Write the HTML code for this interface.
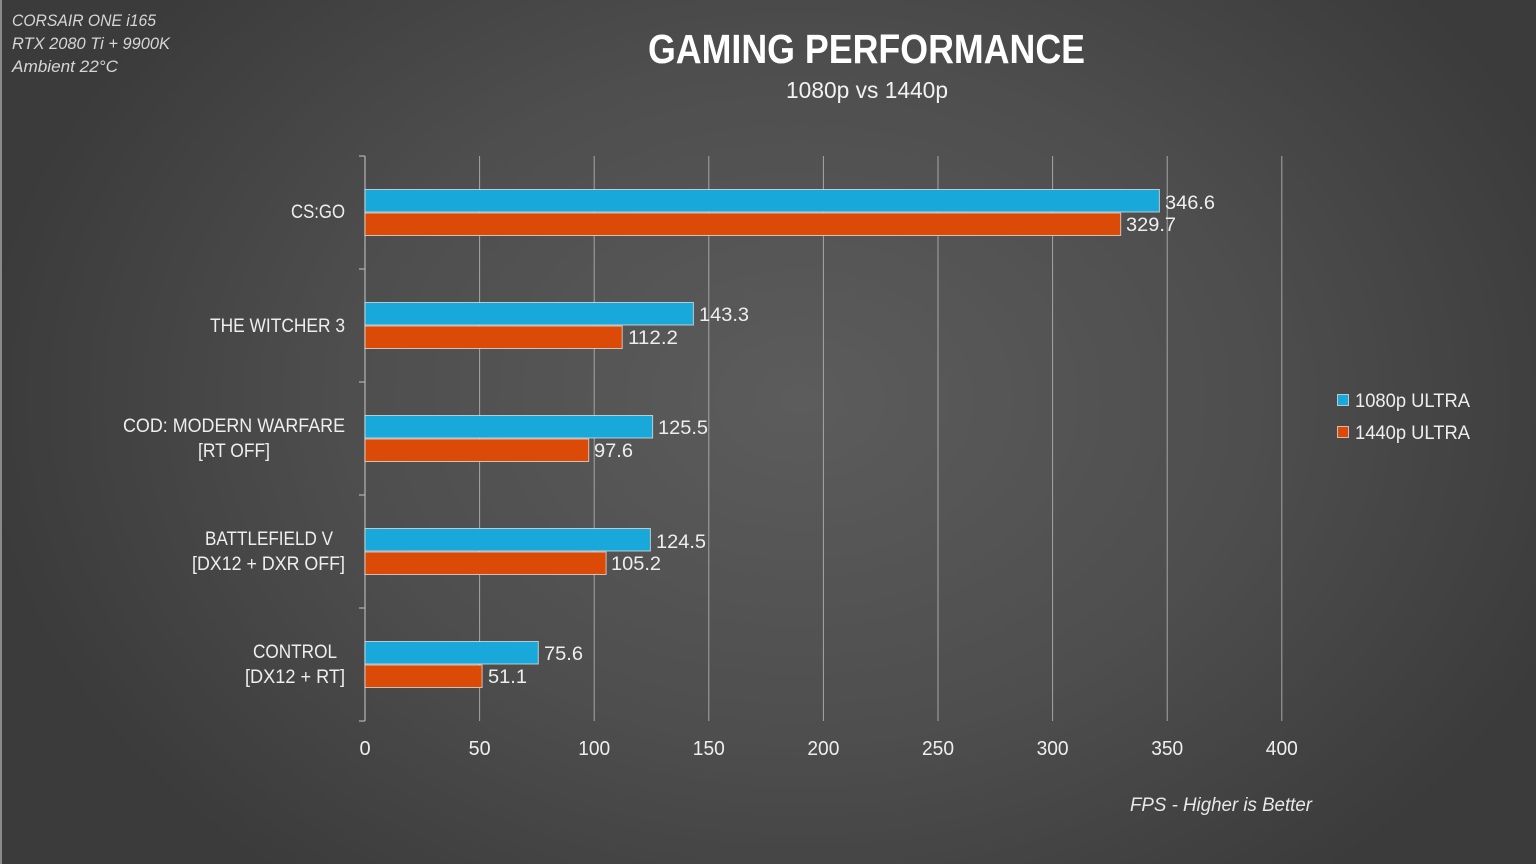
<!DOCTYPE html>
<html>
<head>
<meta charset="utf-8">
<style>
html,body{margin:0;padding:0;background:#3c3c3c;}
svg{display:block;}
text{font-family:"Liberation Sans",sans-serif;}
</style>
</head>
<body>
<svg width="1536" height="864" viewBox="0 0 1536 864" xmlns="http://www.w3.org/2000/svg">
<defs>
<radialGradient id="bg" cx="800" cy="400" r="820" gradientUnits="userSpaceOnUse" gradientTransform="translate(800 400) scale(1 0.75) translate(-800 -400)">
<stop offset="0" stop-color="#5c5c5c"/>
<stop offset="0.55" stop-color="#4e4e4e"/>
<stop offset="1" stop-color="#3b3b3b"/>
</radialGradient>
</defs>
<rect x="0" y="0" width="1536" height="864" fill="url(#bg)"/>
<rect x="0" y="0" width="2" height="864" fill="#8a8a8a"/>

<!-- top-left info -->
<g fill="#d6d6d6" font-style="italic" font-size="16.5">
<text x="12" y="26" textLength="144" lengthAdjust="spacingAndGlyphs">CORSAIR ONE i165</text>
<text x="12" y="49" textLength="158" lengthAdjust="spacingAndGlyphs">RTX 2080 Ti + 9900K</text>
<text x="12" y="72" textLength="106" lengthAdjust="spacingAndGlyphs">Ambient 22°C</text>
</g>

<!-- title -->
<text x="648" y="63" font-size="40.5" font-weight="bold" fill="#ffffff" textLength="437" lengthAdjust="spacingAndGlyphs">GAMING PERFORMANCE</text>
<text x="786" y="98" font-size="23" fill="#f2f2f2" textLength="162" lengthAdjust="spacingAndGlyphs">1080p vs 1440p</text>

<!-- grid lines -->
<g stroke="#a6a6a6" stroke-width="1">
<line x1="479.6" y1="156" x2="479.6" y2="721"/>
<line x1="594.2" y1="156" x2="594.2" y2="721"/>
<line x1="708.8" y1="156" x2="708.8" y2="721"/>
<line x1="823.4" y1="156" x2="823.4" y2="721"/>
<line x1="938" y1="156" x2="938" y2="721"/>
<line x1="1052.6" y1="156" x2="1052.6" y2="721"/>
<line x1="1167.2" y1="156" x2="1167.2" y2="721"/>
<line x1="1281.8" y1="156" x2="1281.8" y2="721"/>
</g>
<!-- axis -->
<g stroke="#b4b4b4" stroke-width="1.2">
<line x1="365" y1="156" x2="365" y2="721"/>
<line x1="359" y1="156" x2="365" y2="156"/>
<line x1="359" y1="269" x2="365" y2="269"/>
<line x1="359" y1="382" x2="365" y2="382"/>
<line x1="359" y1="495" x2="365" y2="495"/>
<line x1="359" y1="608" x2="365" y2="608"/>
<line x1="359" y1="721" x2="365" y2="721"/>
</g>

<!-- bars -->
<g stroke="#e6e6e6" stroke-opacity="0.75" stroke-width="1">
<rect x="365" y="189.5" width="794.4" height="22.5" fill="#18a8d9"/>
<rect x="365" y="213" width="755.7" height="22.5" fill="#dc4a07"/>
<rect x="365" y="302.5" width="328.4" height="22.5" fill="#18a8d9"/>
<rect x="365" y="326" width="257.2" height="22.5" fill="#dc4a07"/>
<rect x="365" y="415.5" width="287.6" height="22.5" fill="#18a8d9"/>
<rect x="365" y="439" width="223.7" height="22.5" fill="#dc4a07"/>
<rect x="365" y="528.5" width="285.4" height="22.5" fill="#18a8d9"/>
<rect x="365" y="552" width="241.1" height="22.5" fill="#dc4a07"/>
<rect x="365" y="641.5" width="173.3" height="22.5" fill="#18a8d9"/>
<rect x="365" y="665" width="117.1" height="22.5" fill="#dc4a07"/>
</g>

<!-- data labels -->
<g fill="#eeeeee" font-size="19.5">
<text x="1165" y="209" textLength="50" lengthAdjust="spacingAndGlyphs">346.6</text>
<text x="1126" y="231" textLength="50" lengthAdjust="spacingAndGlyphs">329.7</text>
<text x="699" y="321" textLength="50" lengthAdjust="spacingAndGlyphs">143.3</text>
<text x="628" y="344" textLength="50" lengthAdjust="spacingAndGlyphs">112.2</text>
<text x="658" y="434" textLength="50" lengthAdjust="spacingAndGlyphs">125.5</text>
<text x="594" y="457" textLength="39" lengthAdjust="spacingAndGlyphs">97.6</text>
<text x="656" y="548" textLength="50" lengthAdjust="spacingAndGlyphs">124.5</text>
<text x="611" y="570" textLength="50" lengthAdjust="spacingAndGlyphs">105.2</text>
<text x="544" y="660" textLength="39" lengthAdjust="spacingAndGlyphs">75.6</text>
<text x="488" y="683" textLength="39" lengthAdjust="spacingAndGlyphs">51.1</text>
</g>

<!-- category labels -->
<g fill="#eeeeee" font-size="19.5">
<text x="291" y="218" textLength="54" lengthAdjust="spacingAndGlyphs">CS:GO</text>
<text x="210" y="332" textLength="135" lengthAdjust="spacingAndGlyphs">THE WITCHER 3</text>
<text x="123" y="432" textLength="222" lengthAdjust="spacingAndGlyphs">COD: MODERN WARFARE</text>
<text x="198" y="457" textLength="72" lengthAdjust="spacingAndGlyphs">[RT OFF]</text>
<text x="205" y="545" textLength="128" lengthAdjust="spacingAndGlyphs">BATTLEFIELD V</text>
<text x="192" y="570" textLength="153" lengthAdjust="spacingAndGlyphs">[DX12 + DXR OFF]</text>
<text x="253" y="658" textLength="84" lengthAdjust="spacingAndGlyphs">CONTROL</text>
<text x="245" y="683" textLength="100" lengthAdjust="spacingAndGlyphs">[DX12 + RT]</text>
</g>

<!-- x tick labels -->
<g fill="#eeeeee" font-size="20" text-anchor="middle">
<text x="365" y="755">0</text>
<text x="479.6" y="755" textLength="22" lengthAdjust="spacingAndGlyphs">50</text>
<text x="594.2" y="755" textLength="32" lengthAdjust="spacingAndGlyphs">100</text>
<text x="708.8" y="755" textLength="32" lengthAdjust="spacingAndGlyphs">150</text>
<text x="823.4" y="755" textLength="32" lengthAdjust="spacingAndGlyphs">200</text>
<text x="938" y="755" textLength="32" lengthAdjust="spacingAndGlyphs">250</text>
<text x="1052.6" y="755" textLength="32" lengthAdjust="spacingAndGlyphs">300</text>
<text x="1167.2" y="755" textLength="32" lengthAdjust="spacingAndGlyphs">350</text>
<text x="1281.8" y="755" textLength="32" lengthAdjust="spacingAndGlyphs">400</text>
</g>

<!-- legend -->
<rect x="1337.5" y="394.5" width="11" height="11" fill="#18a8d9" stroke="#e6e6e6" stroke-opacity="0.75" stroke-width="1"/>
<rect x="1337.5" y="426.5" width="11" height="11" fill="#dc4a07" stroke="#e6e6e6" stroke-opacity="0.75" stroke-width="1"/>
<g fill="#eeeeee" font-size="19.5">
<text x="1355" y="407" textLength="115" lengthAdjust="spacingAndGlyphs">1080p ULTRA</text>
<text x="1355" y="439" textLength="115" lengthAdjust="spacingAndGlyphs">1440p ULTRA</text>
</g>

<!-- footer -->
<text x="1130" y="811" font-size="19.5" font-style="italic" fill="#e8e8e8" textLength="182" lengthAdjust="spacingAndGlyphs">FPS - Higher is Better</text>
</svg>
</body>
</html>
